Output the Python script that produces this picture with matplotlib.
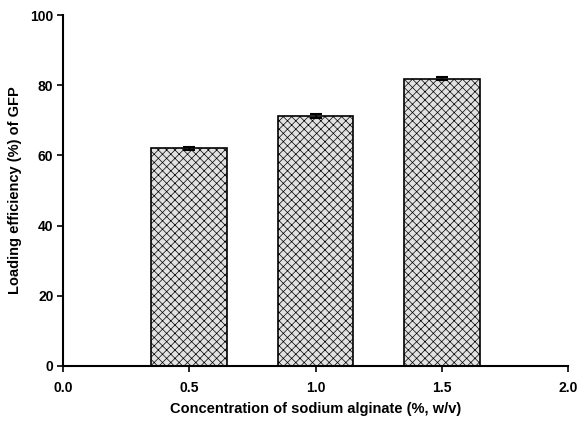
import numpy as np
import matplotlib
matplotlib.use("Agg")
import matplotlib.pyplot as plt

plt.rcParams['font.family'] = ['Liberation Sans', 'DejaVu Sans']
plt.rcParams['font.weight'] = 'bold'
plt.rcParams['hatch.color'] = '#a6a6a6'
plt.rcParams['hatch.linewidth'] = 0.5

conc = [0.5, 1.0, 1.5]
efficiency = [62.1, 71.3, 81.9]
errors = [0.4, 0.5, 0.5]

fig = plt.figure(figsize=(5.79, 4.22), dpi=100)
ax = fig.add_axes([0.109, 0.133, 0.872, 0.831])

ax.bar(conc, efficiency, width=0.3, color='#e2e2e2', edgecolor='black',
       linewidth=1.2, hatch='xxxx', yerr=errors,
       error_kw=dict(ecolor='black', elinewidth=1.2, capsize=4, capthick=1.5))

ax.set_xlim(0, 2.0)
ax.set_ylim(0, 100)
ax.set_xticks(np.arange(0, 2.01, 0.5))
ax.set_xticklabels([f"{v:.1f}" for v in np.arange(0, 2.01, 0.5)])
ax.set_yticks(np.arange(0, 101, 20))

ax.spines['top'].set_visible(False)
ax.spines['right'].set_visible(False)
ax.spines['left'].set_linewidth(1.5)
ax.spines['bottom'].set_linewidth(1.5)
ax.tick_params(axis='y', direction='out', length=4, width=1.2, labelsize=10, pad=3)
ax.tick_params(axis='x', direction='out', length=4, width=1.2, labelsize=10, pad=7)

ax.set_xlabel("Concentration of sodium alginate (%, w/v)", fontsize=10.5, fontweight='bold', labelpad=5)
ax.set_ylabel("Loading efficiency (%) of GFP", fontsize=10.5, fontweight='bold', labelpad=6)

fig.savefig("out.png", dpi=100)
